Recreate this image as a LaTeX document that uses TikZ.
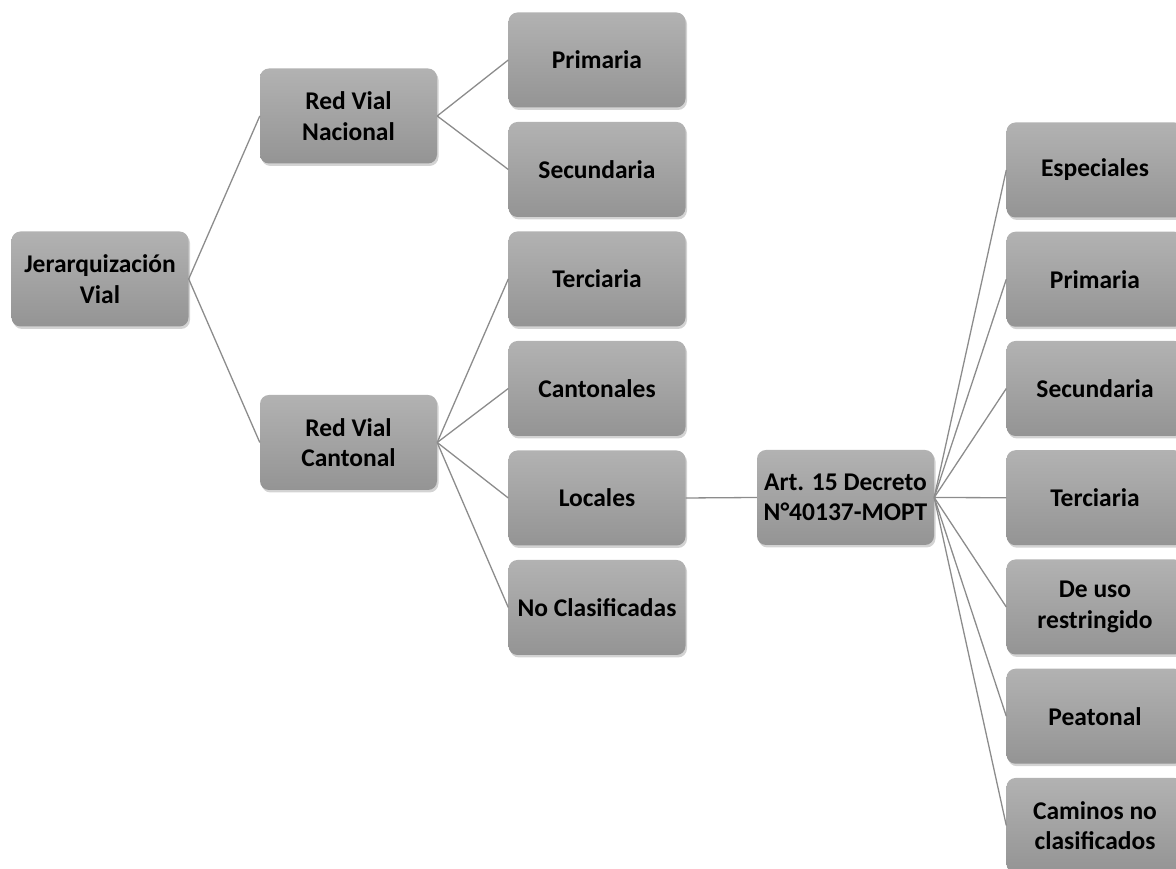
\documentclass[tikz,border=0pt]{standalone}
\usepackage{fontspec}
\setmainfont{Carlito}
\usepackage{xcolor}
\definecolor{mytop}{RGB}{178,178,178}
\definecolor{mybottom}{RGB}{148,148,148}
\definecolor{mygrayline}{RGB}{140,140,140}
\usepackage{tikz}
\usetikzlibrary{positioning,shadows,calc}

\begin{document}
\begin{tikzpicture}[
  x=1pt,
  y=1pt,
  mybox/.style={
    rectangle,
    rounded corners=9pt,
    top color=mytop,
    bottom color=mybottom,
    drop shadow={opacity=0.35,shadow xshift=1.5pt,shadow yshift=-2.5pt},
    minimum width=177pt,
    minimum height=95pt,
    inner sep=2pt,
    align=center,
    font=\fontsize{25.5}{30.5}\selectfont\bfseries
    },
  myline/.style={
    draw=mygrayline,
    line width=1.3pt
  }
]
\useasboundingbox (0,0) rectangle (1176,869);

\node[mybox] (jerarquia) at (100,590) {Jerarquización\\Vial};
\node[mybox] (nacional) at (348.5,753) {Red Vial\\Nacional};
\node[mybox] (cantonal) at (348.5,426.5) {Red Vial\\Cantonal};

\foreach \Texto [count=\Ti from 0] in {Primaria, Secundaria, Terciaria, Cantonales, Locales, No Clasificadas}
  \node[mybox] (tipo\Ti) at (597,809-109.5*\Ti) {\Texto};

\node[mybox] (decreto) at (845.5,371.5) {Art. 15 Decreto\\N°40137-MOPT};

\foreach \Texto [count=\Ci from 0] in {Especiales, Primaria, Secundaria, Terciaria, {De uso\\restringido}, Peatonal, {Caminos no\\clasificados}}
  \node[mybox] (clase\Ci) at (1095,699-109.25*\Ci) {\Texto};

\draw[myline] (jerarquia.east) -- (nacional.west);
\draw[myline] (jerarquia.east) -- (cantonal.west);
\foreach \Ti in {0,1}
  \draw[myline] (nacional.east) -- (tipo\Ti.west);
\foreach \Ti in {2,...,5}
  \draw[myline] (cantonal.east) -- (tipo\Ti.west);
\draw[myline] (tipo4.east) -- (decreto.west);
\foreach \Ci in {0,...,6}
  \draw[myline] (decreto.east) -- (clase\Ci.west);

\end{tikzpicture}
\end{document}
